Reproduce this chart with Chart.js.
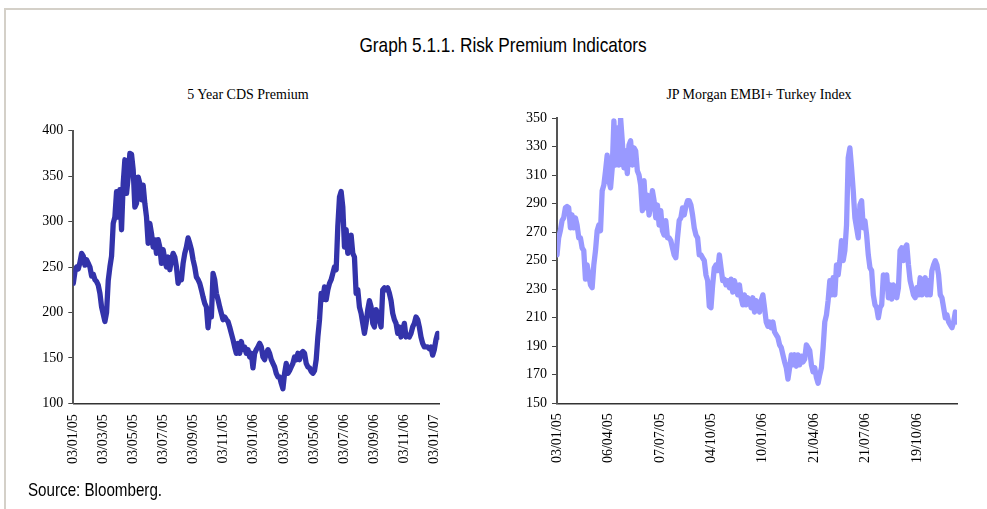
<!DOCTYPE html>
<html><head><meta charset="utf-8">
<script src="https://cdn.jsdelivr.net/npm/chart.js@4.4.0/dist/chart.umd.min.js"></script>
<style>
body{margin:0;background:#fff;width:987px;height:509px;overflow:hidden;position:relative;font-family:'Liberation Sans',Arial,sans-serif}
#frame{position:absolute;left:4px;top:8px;width:983px;height:501px;border-top:2px solid #d4d0c8;border-left:2px solid #d4d0c8;box-sizing:border-box}
.narrow{position:absolute;white-space:nowrap;color:#000;line-height:1}
#title{left:503px;top:34px;font-size:21px;transform-origin:50% 50%;transform:translateX(-50%) scaleX(0.82)}
#source{left:28px;top:481px;font-size:18.5px;transform-origin:0 0;transform:scaleX(0.82)}
.sub{position:absolute;font-family:'Liberation Serif','Times New Roman',serif;font-size:14px;line-height:1;white-space:nowrap;transform:translateX(-50%);top:88px;color:#000}
canvas{position:absolute}
</style>
</head>
<body>
<div id="frame"></div>
<div id="title" class="narrow">Graph 5.1.1. Risk Premium Indicators</div>
<div class="sub" style="left:248px">5 Year CDS Premium</div>
<div class="sub" style="left:759px">JP Morgan EMBI+ Turkey Index</div>
<canvas id="cds" width="450" height="370" style="left:0;top:110px;width:450px;height:370px"></canvas>
<canvas id="embi" width="490" height="382" style="left:480px;top:98px;width:490px;height:382px"></canvas>
<div id="source" class="narrow">Source: Bloomberg.</div>
<script>
// ---- data ----
const cdsTickLabels = ['03/01/05','03/03/05','03/05/05','03/07/05','03/09/05','03/11/05','03/01/06','03/03/06','03/05/06','03/07/06','03/09/06','03/11/06','03/01/07'];
const cdsPointsPerLabel = 18.08;
const cdsValues = [
232,245,250,248,255,265,262,252,258,254,
250,240,242,236,234,230,221,206,198,190,
200,235,250,262,298,305,333,305,335,291,
342,368,331,349,375,374,357,316,320,349,
342,324,340,320,305,276,298,287,272,280,
265,280,272,254,269,258,250,261,247,258,
265,261,250,232,239,236,254,265,272,282,
276,269,258,250,239,236,232,225,217,210,
206,183,203,195,243,236,221,214,206,199,
192,195,192,190,184,177,170,162,155,166,
155,168,159,162,155,159,151,155,139,155,
159,162,166,162,151,148,155,159,155,148,
144,140,133,129,129,122,116,133,144,133,
136,140,144,151,148,155,148,155,157,155,
144,140,139,135,133,136,148,173,192,221,
214,228,214,225,232,236,243,250,247,295,
327,333,316,272,291,265,280,285,265,261,
221,225,206,199,188,177,188,203,213,206,
188,184,203,199,192,184,225,227,225,227,
221,213,199,192,188,177,184,173,181,188,
173,175,173,177,184,188,195,192,184,173,
166,162,162,162,160,162,153,159,170,177,
173];

const embiTickLabels = ['03/01/05','06/04/05','07/07/05','04/10/05','10/01/06','21/04/06','21/07/06','19/10/06'];
const embiPointsPerLabel = 30.72;
const embiValues = [
254,266,271,278,280,287,288,287,273,282,
273,280,275,266,266,259,257,237,247,240,
233,231,247,257,271,275,271,299,303,313,
324,306,301,315,348,317,343,317,350,334,
315,327,311,331,334,317,329,327,313,310,
303,285,306,287,296,282,289,299,292,280,
289,275,285,271,268,278,266,266,264,259,
254,252,266,278,280,287,282,288,292,292,
289,282,273,268,266,254,254,252,250,240,
236,218,217,233,245,247,243,254,245,236,
237,233,236,231,237,228,236,231,226,233,
224,219,226,219,224,222,217,224,214,222,
217,214,222,226,217,207,204,207,203,207,
200,198,196,191,189,184,179,175,167,175,
184,177,184,176,184,177,183,179,181,191,
189,187,177,172,175,168,164,170,175,189,
207,212,222,236,226,238,226,247,240,250,
264,250,257,275,322,329,315,299,280,273,
266,289,292,273,278,268,254,245,243,226,
219,217,210,217,219,240,233,240,224,233,
223,233,226,224,231,257,259,250,259,261,
247,236,231,226,224,231,226,238,226,236,
238,226,236,226,243,247,250,247,240,226,
224,217,210,212,207,205,203,207,214,207];

// ---- chart builder ----
const tickFont = {family:"'Liberation Serif','Times New Roman',serif", size:14};

function zeroPad(s) { s.paddingLeft = 0; s.paddingRight = 0; s.paddingTop = 0; s.paddingBottom = 0; }

function build(id, cfg) {
  const pts = cfg.values.map((v, i) => ({x: i / cfg.ppl, y: v}));
  return new Chart(document.getElementById(id), {
    type: 'line',
    data: {datasets: [{data: pts, borderColor: cfg.color, borderWidth: 5.3, pointRadius: 0,
      tension: 0, fill: false, borderJoinStyle: 'round', borderCapStyle: 'round'}]},
    options: {
      responsive: false, animation: false, devicePixelRatio: 1,
      layout: {padding: cfg.padding},
      plugins: {legend: {display: false}, tooltip: {enabled: false}, title: {display: false}},
      scales: {
        x: {
          type: 'linear', min: 0, max: (cfg.values.length - 1) / cfg.ppl,
          grid: {display: false, drawTicks: false},
          border: {display: true, color: '#333', width: 1.5},
          afterBuildTicks: s => { s.ticks = cfg.labels.map((_, i) => ({value: i})); },
          afterFit: s => { s.height = cfg.xHeight; zeroPad(s); },
          ticks: {autoSkip: false, maxRotation: 90, minRotation: 90, padding: cfg.xPad,
            color: '#000', font: tickFont,
            callback: v => cfg.labels[Math.round(v)] ?? ''}
        },
        y: {
          min: cfg.yMin, max: cfg.yMax,
          grid: {display: true, drawOnChartArea: false, drawTicks: true, tickLength: 5, color: '#444', lineWidth: 1},
          border: {display: true, color: '#555', width: 2},
          afterFit: s => { s.width = cfg.yWidth; zeroPad(s); },
          ticks: {stepSize: cfg.yStep, padding: 5, color: '#000', font: tickFont}
        }
      }
    }
  });
}

build('cds', {values: cdsValues, labels: cdsTickLabels, ppl: cdsPointsPerLabel, color: '#3333aa',
  yMin: 100, yMax: 400, yStep: 50, yWidth: 73.3, xHeight: 76.7, xPad: 11,
  padding: {top: 20.7, right: 10.7, left: 0, bottom: 0}});

build('embi', {values: embiValues, labels: embiTickLabels, ppl: embiPointsPerLabel, color: '#9999ff',
  yMin: 150, yMax: 350, yStep: 20, yWidth: 77, xHeight: 76.7, xPad: 10,
  padding: {top: 20, right: 13, left: 0, bottom: 0}});
</script>
</body></html>
